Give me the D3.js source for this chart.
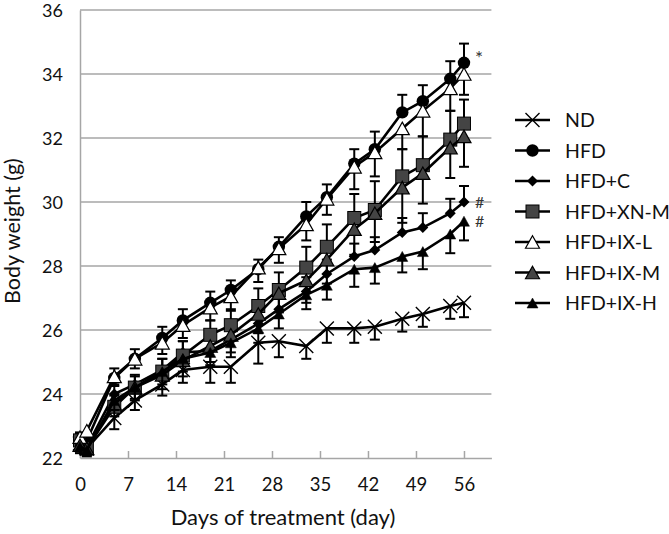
<!DOCTYPE html>
<html><head><meta charset="utf-8">
<script src="https://cdn.jsdelivr.net/npm/d3@7"></script>
<style>body{margin:0;background:#fff}svg{display:block}text{font-family:Lato,"Open Sans",sans-serif}</style>
</head><body><svg id="c" width="669" height="534"></svg>
<script>
const days = [0,1,5,8,12,15,19,22,26,29,33,36,40,43,47,50,54,56];
const seriesNames = ["ND","HFD","HFD+C","HFD+XN-M","HFD+IX-L","HFD+IX-M","HFD+IX-H"];
const ndVals  = [22.45,22.3,23.25,23.8,24.3,24.75,24.85,24.85,25.6,25.65,25.5,26.05,26.05,26.1,26.35,26.5,26.75,26.85];
const ndErr   = [0.2,0.2,0.35,0.3,0.35,0.4,0.5,0.5,0.65,0.5,0.4,0.45,0.45,0.4,0.4,0.4,0.4,0.45];
const hfdVals = [22.6,22.55,24.5,25.1,25.75,26.3,26.85,27.25,27.9,28.6,29.55,30.15,31.2,31.65,32.8,33.15,33.85,34.35];
const hfdErr  = [0.2,0.25,0.3,0.3,0.35,0.35,0.35,0.3,0.3,0.3,0.45,0.4,0.45,0.55,0.55,0.5,0.55,0.6];
const cVals   = [22.5,22.35,24.0,24.3,24.75,25.3,25.35,25.7,26.2,26.65,27.2,27.75,28.3,28.5,29.05,29.2,29.65,30.0];
const cErr    = [0.2,0.2,0.3,0.3,0.35,0.35,0.4,0.4,0.4,0.4,0.45,0.45,0.4,0.4,0.45,0.45,0.45,0.5];
const xnmVals = [22.55,22.3,23.6,24.2,24.7,25.2,25.85,26.15,26.75,27.25,27.95,28.6,29.5,29.75,30.8,31.15,31.95,32.45];
const xnmErr  = [0.2,0.2,0.35,0.35,0.4,0.45,0.45,0.5,0.55,0.55,0.65,0.7,0.75,0.9,0.85,0.9,0.9,0.75];
const ixlVals = [22.65,22.85,24.55,25.1,25.6,26.15,26.7,27.05,27.95,28.55,29.3,30.1,31.1,31.55,32.3,32.85,33.55,34.0];
const ixlErr  = [0.25,0.25,0.3,0.3,0.35,0.4,0.4,0.45,0.45,0.45,0.5,0.5,0.7,0.75,0.65,0.8,0.7,0.65];
const ixmVals = [22.4,22.3,23.7,24.2,24.6,25.05,25.5,25.85,26.5,27.15,27.55,28.2,29.15,29.65,30.45,30.9,31.7,32.05];
const ixmErr  = [0.2,0.2,0.4,0.4,0.45,0.5,0.5,0.55,0.6,0.6,0.7,0.75,0.8,0.9,1.1,0.95,0.95,0.95];
const ixhVals = [22.35,22.25,23.8,24.2,24.7,25.1,25.3,25.6,26.05,26.5,27.1,27.4,27.9,27.95,28.3,28.45,29.0,29.4];
const ixhErr  = [0.2,0.2,0.3,0.35,0.4,0.4,0.4,0.45,0.45,0.45,0.45,0.45,0.55,0.5,0.5,0.55,0.6,0.6];
const xTicks = [0,7,14,21,28,35,42,49,56];
const yTicks = [22,24,26,28,30,32,34,36];
const annotations = [{t:"*",day:56,v:34.35},{t:"#",day:56,v:30.0},{t:"#",day:56,v:29.4}];

const series = [
  {name:seriesNames[0], vals:ndVals,  err:ndErr,  dir:-1, mk:"x"},
  {name:seriesNames[1], vals:hfdVals, err:hfdErr, dir: 1, mk:"circle"},
  {name:seriesNames[2], vals:cVals,   err:cErr,   dir: 1, mk:"diamond"},
  {name:seriesNames[3], vals:xnmVals, err:xnmErr, dir: 1, mk:"square"},
  {name:seriesNames[4], vals:ixlVals, err:ixlErr, dir:-1, mk:"triW"},
  {name:seriesNames[5], vals:ixmVals, err:ixmErr, dir:-1, mk:"triG"},
  {name:seriesNames[6], vals:ixhVals, err:ixhErr, dir:-1, mk:"triB"}
];

const svg = d3.select("#c");
const x = d3.scaleLinear().domain([0,60]).range([80,491.4]);
const y = d3.scaleLinear().domain([22,36]).range([458,10]);
const grid = "#a6a6a6";

// gridlines
svg.append("g").selectAll("line").data(yTicks.filter(v=>v>22)).join("line")
  .attr("x1",x(0)).attr("x2",x(60)).attr("y1",d=>y(d)).attr("y2",d=>y(d))
  .attr("stroke",grid).attr("stroke-width",1.5);

// y axis
const ya = svg.append("g").attr("transform",`translate(${x(0)},0)`)
  .call(d3.axisLeft(y).tickValues(yTicks).tickSize(0).tickPadding(17).tickFormat(d3.format("d")));
ya.select(".domain").attr("stroke",grid).attr("stroke-width",1.5);
ya.selectAll("text").attr("font-size",18).attr("fill","#111").attr("font-family","Lato").attr("dy","0.34em");

// x axis
const xa = svg.append("g").attr("transform",`translate(0,${y(22)})`)
  .call(d3.axisBottom(x).tickValues(xTicks).tickSizeInner(-7).tickSizeOuter(0).tickPadding(20).tickFormat(d3.format("d")));
xa.select(".domain").attr("stroke",grid).attr("stroke-width",1.5);
xa.selectAll(".tick line").attr("stroke",grid).attr("stroke-width",1.5);
xa.selectAll("text").attr("font-size",18.5).attr("fill","#111").attr("font-family","Lato");

// titles
svg.append("text").attr("x",283).attr("y",525).attr("text-anchor","middle")
  .attr("font-size",22).attr("fill","#111").text("Days of treatment (day)");
svg.append("text").attr("transform","translate(20,231) rotate(-90)").attr("text-anchor","middle")
  .attr("font-size",21.5).attr("fill","#111").text("Body weight (g)");

function marker(g, type, cx, cy){
  if(type==="x"){
    const s=7;
    g.append("path").attr("d",`M${cx-s},${cy-s}L${cx+s},${cy+s}M${cx-s},${cy+s}L${cx+s},${cy-s}`)
      .attr("stroke","#000").attr("stroke-width",1.4).attr("fill","none");
  } else if(type==="circle"){
    g.append("circle").attr("cx",cx).attr("cy",cy).attr("r",6.2).attr("fill","#000");
  } else if(type==="diamond"){
    const s=5.5;
    g.append("path").attr("d",`M${cx},${cy-s}L${cx+s},${cy}L${cx},${cy+s}L${cx-s},${cy}Z`).attr("fill","#000");
  } else if(type==="square"){
    g.append("rect").attr("x",cx-6.5).attr("y",cy-6.5).attr("width",13).attr("height",13)
      .attr("fill","#444").attr("stroke","#000").attr("stroke-width",1);
  } else {
    const w = type==="triB"?11:14, h = type==="triB"?10:12.5;
    const fill = type==="triW"?"#fff":type==="triG"?"#444":"#000";
    g.append("path").attr("d",`M${cx},${cy-h/2}L${cx+w/2},${cy+h/2}L${cx-w/2},${cy+h/2}Z`)
      .attr("fill",fill).attr("stroke","#000").attr("stroke-width",type==="triB"?0.5:1.2).attr("stroke-linejoin","miter");
  }
}

const line = d3.line().x(d=>x(d[0])).y(d=>y(d[1]));
series.forEach(s=>{
  const g = svg.append("g");
  const pts = days.map((d,i)=>[d,s.vals[i],s.err[i]]);
  g.append("path").attr("d",line(pts)).attr("fill","none").attr("stroke","#000").attr("stroke-width",2.6);
  pts.forEach(p=>{
    const y0=y(p[1]), y1=y(p[1]+s.dir*p[2]), cx=x(p[0]);
    g.append("line").attr("x1",cx).attr("x2",cx).attr("y1",y0).attr("y2",y1).attr("stroke","#000").attr("stroke-width",2);
    g.append("line").attr("x1",cx-5).attr("x2",cx+5).attr("y1",y1).attr("y2",y1).attr("stroke","#000").attr("stroke-width",2);
  });
  pts.forEach(p=>marker(g,s.mk,x(p[0]),y(p[1])));
});

// annotations
annotations.forEach(a=>{
  const star = a.t==="*";
  svg.append("text").attr("x",x(a.day)+11).attr("y",y(a.v)+(star?2:6))
    .attr("font-size",star?19:16).attr("fill","#333").text(a.t);
});

// legend
const lg = svg.append("g");
series.forEach((s,i)=>{
  const cy = 120 + i*30.5;
  lg.append("line").attr("x1",515).attr("x2",550).attr("y1",cy).attr("y2",cy).attr("stroke","#000").attr("stroke-width",2.6);
  marker(lg,s.mk,532.5,cy);
  lg.append("text").attr("x",565).attr("y",cy).attr("dy","0.36em").attr("font-size",19.5).attr("fill","#111").text(s.name);
});
</script></body></html>
